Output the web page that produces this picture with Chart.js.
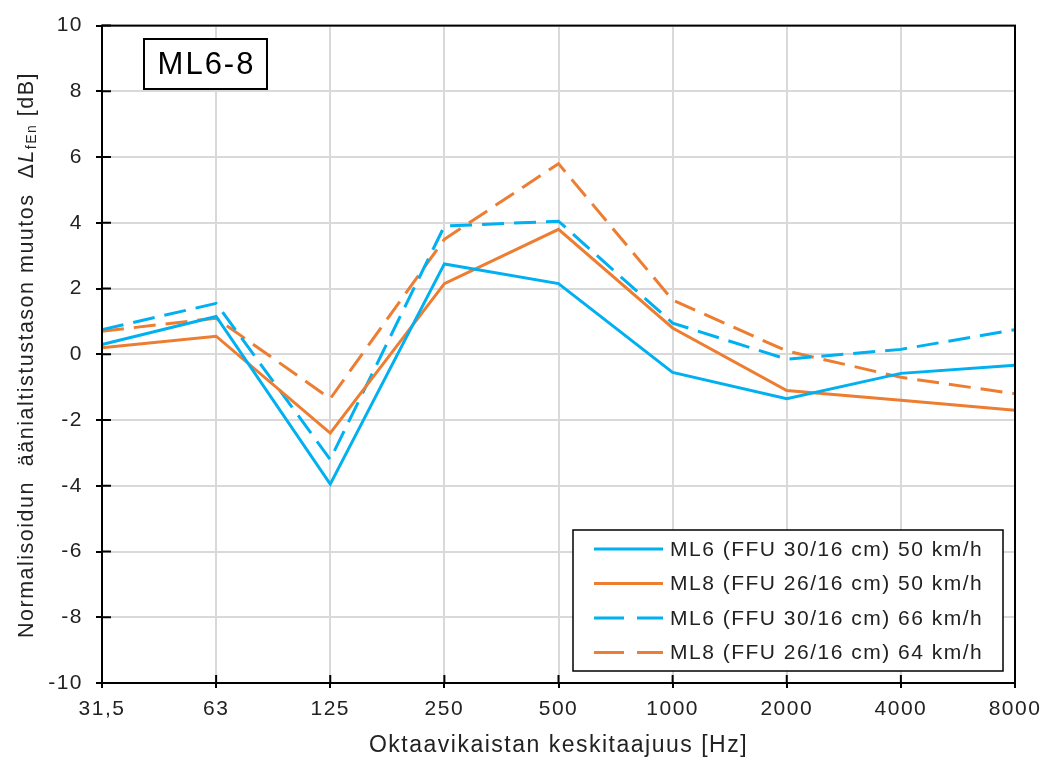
<!DOCTYPE html>
<html>
<head>
<meta charset="utf-8">
<script src="https://cdn.jsdelivr.net/npm/chart.js@4.4.0/dist/chart.umd.min.js"></script>
<style>
  body { margin: 0; background: #fff; }
  #wrap { width: 1046px; height: 760px; }
</style>
</head>
<body>
<div id="wrap"><canvas id="chart1"></canvas></div>
<script>
// octave band centre frequencies
let bands = ['31,5', '63', '125', '250', '500', '1000', '2000', '4000', '8000']

let ml6_50 = [0.3, 1.15, -3.95, 2.75, 2.15, -0.55, -1.35, -0.58, -0.33]
let ml8_50 = [0.2, 0.55, -2.4, 2.15, 3.8, 0.8, -1.1, -1.4, -1.7]
let ml6_66 = [0.75, 1.55, -3.2, 3.9, 4.05, 0.95, -0.15, 0.15, 0.75]
let ml8_64 = [0.7, 1.1, -1.35, 3.5, 5.8, 1.65, 0.1, -0.7, -1.2]

let seriesLabels = [
    'ML6 (FFU 30/16 cm) 50 km/h',
    'ML8 (FFU 26/16 cm) 50 km/h',
    'ML6 (FFU 30/16 cm) 66 km/h',
    'ML8 (FFU 26/16 cm) 64 km/h'
]

let blue = '#00b0f0'
let orange = '#ed7d31'
let dash = [22, 10]
let font = 'Liberation Sans, Arial, sans-serif'
let spacing = '1.5px'

function line(label, data, color, dashed) {
    return {
        label: label,
        data: data,
        borderColor: color,
        backgroundColor: color,
        borderWidth: 3,
        borderDash: dashed ? dash : [],
        pointRadius: 0,
        tension: 0,
        fill: false
    }
}

// the excel text is a bit wider than plain Arial
let wideText = {
    id: 'wideText',
    beforeUpdate(chart) { chart.ctx.letterSpacing = spacing },
    beforeDraw(chart) { chart.ctx.letterSpacing = spacing }
}

// frame, inner tick marks, tag box, legend and y title drawn by hand
let extras = {
    id: 'extras',
    afterDraw(chart) {
        let ctx = chart.ctx
        let a = chart.chartArea
        let xs = chart.scales.x
        let ys = chart.scales.y
        ctx.save()
        ctx.strokeStyle = '#000'
        ctx.lineWidth = 2
        ctx.strokeRect(a.left, a.top, a.right - a.left, a.bottom - a.top)

        ctx.beginPath()
        xs.ticks.forEach((t, i) => {
            let x = xs.getPixelForTick(i)
            ctx.moveTo(x, a.bottom)
            ctx.lineTo(x, a.bottom - 8)
        })
        ys.ticks.forEach((t, i) => {
            let y = ys.getPixelForTick(i)
            ctx.moveTo(a.left, y)
            ctx.lineTo(a.left + 9, y)
        })
        ctx.stroke()

        // ML6-8 tag
        ctx.fillStyle = '#fff'
        ctx.fillRect(144, 39, 123, 50)
        ctx.strokeRect(144, 39, 123, 50)
        ctx.fillStyle = '#000'
        ctx.font = '31px ' + font
        ctx.letterSpacing = '2px'
        ctx.textAlign = 'center'
        ctx.textBaseline = 'middle'
        ctx.fillText('ML6-8', 206.5, 65)

        // legend
        ctx.fillStyle = '#fff'
        ctx.fillRect(573, 530, 430, 141)
        ctx.lineWidth = 1.5
        ctx.strokeRect(573, 530, 430, 141)
        ctx.font = '21px ' + font
        ctx.letterSpacing = spacing
        ctx.textAlign = 'left'
        chart.data.datasets.forEach((ds, i) => {
            let y = 549 + i * 34.5
            ctx.strokeStyle = ds.borderColor
            ctx.lineWidth = 3
            ctx.setLineDash(ds.borderDash.length ? [30, 13] : [])
            ctx.beginPath()
            ctx.moveTo(594, y)
            ctx.lineTo(663, y)
            ctx.stroke()
            ctx.setLineDash([])
            ctx.fillStyle = '#222'
            ctx.fillText(ds.label, 670, y + 1)
        })

        // y axis title with subscript
        let parts = [
            ['Normalisoidun  äänialtistustason muutos  Δ', '21.5px ' + font, 0],
            ['L', 'italic 21.5px ' + font, 0],
            ['fEn', '14px ' + font, 5],
            [' [dB]', '21.5px ' + font, 0]
        ]
        let total = 0
        parts.forEach(p => { ctx.font = p[1]; total += ctx.measureText(p[0]).width })
        ctx.translate(27, 355)
        ctx.rotate(-Math.PI / 2)
        ctx.fillStyle = '#222'
        ctx.textBaseline = 'middle'
        let x = -total / 2
        parts.forEach(p => {
            ctx.font = p[1]
            ctx.fillText(p[0], x, p[2])
            x += ctx.measureText(p[0]).width
        })
        ctx.restore()
    }
}

let ctx1 = document.getElementById('chart1').getContext('2d')
let chart = new Chart(ctx1, {
    type: 'line',
    data: {
        labels: bands,
        datasets: [
            line(seriesLabels[0], ml6_50, blue, false),
            line(seriesLabels[1], ml8_50, orange, false),
            line(seriesLabels[2], ml6_66, blue, true),
            line(seriesLabels[3], ml8_64, orange, true)
        ]
    },
    options: {
        responsive: true,
        maintainAspectRatio: false,
        animation: false,
        layout: { padding: { left: 10, right: 31, top: 24, bottom: 0 } },
        plugins: {
            legend: { display: false },
            tooltip: { enabled: false }
        },
        scales: {
            x: {
                type: 'category',
                offset: false,
                grid: { color: '#d9d9d9', lineWidth: 2, tickColor: '#000', tickLength: 5 },
                border: { color: '#000', width: 2 },
                ticks: { color: '#222', font: { family: font, size: 21 }, padding: 9, maxRotation: 0 },
                title: {
                    display: true,
                    text: 'Oktaavikaistan keskitaajuus [Hz]',
                    color: '#222',
                    font: { family: font, size: 23 },
                    padding: { top: 2, bottom: 1 }
                },
                afterFit: s => { s.height = 77; s.paddingLeft = 0; s.paddingRight = 0 }
            },
            y: {
                min: -10,
                max: 10,
                grid: { color: '#d9d9d9', lineWidth: 2, tickColor: '#000', tickLength: 6 },
                border: { color: '#000', width: 2 },
                ticks: { stepSize: 2, color: '#222', font: { family: font, size: 21 }, padding: 13 },
                afterFit: s => { s.width = 92 }
            }
        }
    },
    plugins: [wideText, extras]
})
</script>
</body>
</html>
